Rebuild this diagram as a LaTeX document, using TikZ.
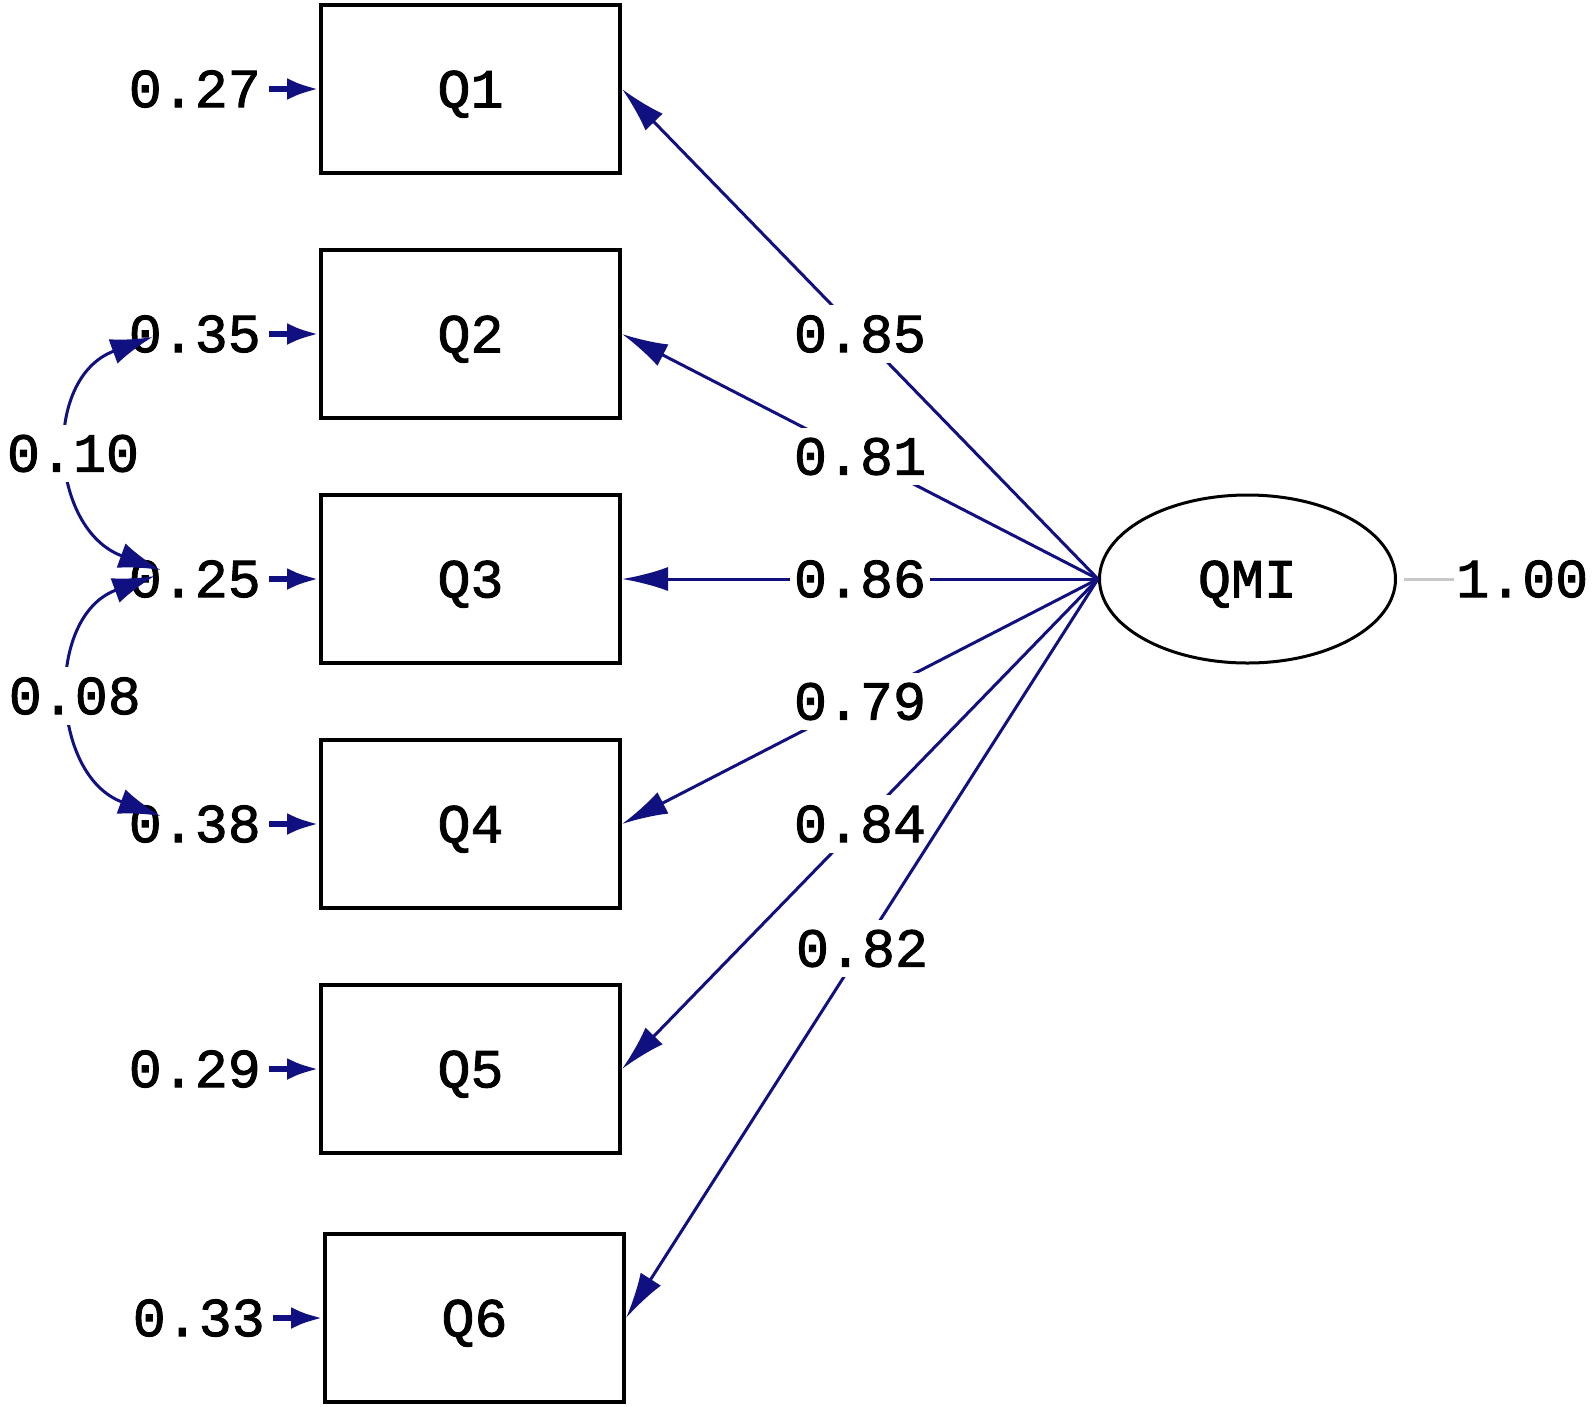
\documentclass[tikz,border=0pt]{standalone}
\usepackage{fontspec}
\usetikzlibrary{shapes.geometric, arrows.meta, positioning}
\newfontfamily\lisrelfont[FakeBold=1.6]{Liberation Mono}
\definecolor{pathblue}{RGB}{16,16,128}
\definecolor{varline}{RGB}{200,200,200}

\begin{document}
\begin{tikzpicture}[
    x=1pt, y=-1pt,
    node distance=73pt,
    font=\lisrelfont\fontsize{55}{60}\selectfont,
    item/.style={draw, line width=4pt, minimum width=299pt, minimum height=168pt, inner sep=0pt, text depth=0pt},
    latent/.style={draw, ellipse, line width=3pt, minimum width=296pt, minimum height=168pt, inner sep=0pt, text depth=0pt},
    errlabel/.style={inner xsep=8pt, inner ysep=2pt},
    coef/.style={fill=white, inner xsep=4pt, inner ysep=10pt},
    errpath/.style={draw=pathblue, line width=6pt, -{Latex[length=32pt,width=22pt]}},
    loading/.style={draw=pathblue, line width=3pt, -{Latex[length=46pt,width=24pt]}},
    covpath/.style={draw=pathblue, line width=3pt, {Latex[length=42pt,width=26pt]}-{Latex[length=42pt,width=26pt]}},
]
    \useasboundingbox (0,0) rectangle (1595,1406);

    % Observed items
    \node[item] (q1) at (470.5,89) {Q1};
    \node[item, below=of q1] (q2) {Q2};
    \node[item, below=of q2] (q3) {Q3};
    \node[item, below=of q3] (q4) {Q4};
    \node[item, below=of q4] (q5) {Q5};
    \node[item, below=77pt of q5, xshift=4pt] (q6) {Q6};

    % Latent factor
    \node[latent, right=476pt of q3] (qmi) {QMI};
    \node[inner sep=2pt, right=57pt of qmi] (vq) {1.00};
    \draw[varline, line width=3pt, shorten <=7pt] (qmi) -- (vq);

    % Error variances
    \node[errlabel, left=50pt of q1] (e1) {0.27};
    \node[errlabel, left=50pt of q2] (e2) {0.35};
    \node[errlabel, left=50pt of q3] (e3) {0.25};
    \node[errlabel, left=50pt of q4] (e4) {0.38};
    \node[errlabel, left=50pt of q5] (e5) {0.29};
    \node[errlabel, left=50pt of q6] (e6) {0.33};
    \foreach \i in {1,...,6}
        \draw[errpath] (e\i) -- (q\i);

    % Loadings
    \draw[loading] (qmi.west) -- node[coef] {0.85} (q1.east);
    \draw[loading] (qmi.west) -- node[coef] {0.81} (q2.east);
    \draw[loading] (qmi.west) -- node[coef] {0.86} (q3.east);
    \draw[loading] (qmi.west) -- node[coef] {0.79} (q4.east);
    \draw[loading] (qmi.west) -- node[coef] {0.84} (q5.east);
    \draw[loading] (qmi.west) -- node[coef] {0.82} (q6.east);

    % Error covariances
    \draw[covpath] ([shift={(32pt,-3pt)}]e2.west) to[out=200, in=160, looseness=1.3]
        node[coef] {0.10} ([shift={(40pt,9pt)}]e3.west);
    \draw[covpath] ([shift={(34pt,3pt)}]e3.west) to[out=200, in=160, looseness=1.25]
        node[coef] {0.08} ([shift={(40pt,8pt)}]e4.west);
\end{tikzpicture}
\end{document}
